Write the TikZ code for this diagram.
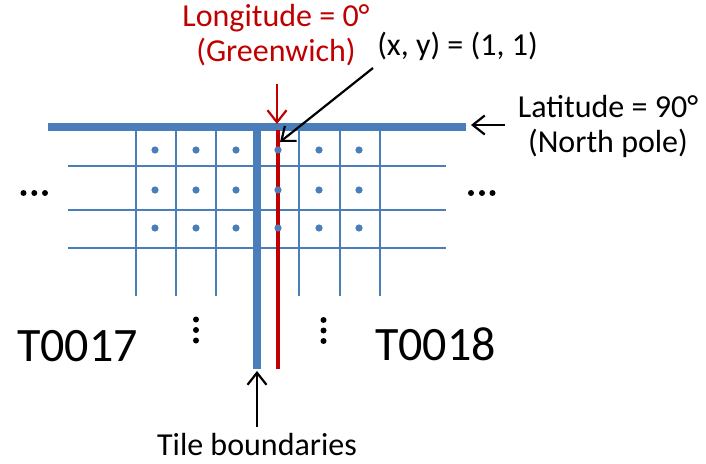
\documentclass[tikz,border=0pt]{standalone}
\usepackage{fontspec}
\setmainfont{Carlito}
\usetikzlibrary{arrows.meta}
\definecolor{gridblue}{HTML}{4A7EBB}
\definecolor{gwred}{HTML}{C00000}
\begin{document}
\begin{tikzpicture}[x=1pt,y=-1pt,
  thinline/.style={draw=gridblue,line width=2pt},
  thickbar/.style={draw=gridblue,line width=7.4pt},
  redline/.style={draw=gwred,line width=4pt},
  cell/.style={circle,fill=gridblue,inner sep=0pt,minimum size=7.2pt},
  blackdot/.style={circle,fill=black,inner sep=0pt,minimum size=6pt},
  lbl/.style={inner sep=0pt,anchor=base,font=\fontsize{32}{36}\selectfont},
  biglbl/.style={inner sep=0pt,anchor=base west,font=\fontsize{48}{56}\selectfont},
  pointer/.style={line width=2.2pt,-{Straight Barb[length=12pt,width=19pt,line width=2.2pt]}},
]
\useasboundingbox (0,0) rectangle (706,463);
% grid vertical thin lines
\foreach \x [count=\i] in {136,176,216,299,340,380}
  \draw[thinline] (\x,130) -- (\x,296);
% grid horizontal lines
\foreach \y in {166,210,248}
  \draw[thinline] (68,\y) -- (446,\y);
% top bar (north pole)
\coordinate (barL) at (48,127);
\coordinate (barR) at (466,127);
\draw[thickbar] (barL) -- (barR);
% tile boundary and Greenwich lines
\coordinate (tbtop) at (257,130);
\coordinate (tbbot) at (257,369);
\draw[thickbar] (tbtop) -- (tbbot);
\coordinate (gwtop) at (278,130);
\coordinate (gwbot) at (278,369);
\draw[redline] (gwtop) -- (gwbot);
% pixel centres
\foreach \x [count=\i] in {155,196,236,278,319,359}
  \foreach \y [count=\j] in {150,190,228}
    \node[cell] (c\i\j) at (\x,\y) {};
% ellipses
\node[blackdot] (ld1) at (23.5,193) {};
\node[blackdot] (ld2) at (34.3,193) {};
\node[blackdot] (ld3) at (45,193) {};
\node[blackdot] (rd1) at (471,193) {};
\node[blackdot] (rd2) at (482,193) {};
\node[blackdot] (rd3) at (492.5,193) {};
\node[blackdot] (lv1) at (196,319.5) {};
\node[blackdot] (lv2) at (196,330) {};
\node[blackdot] (lv3) at (196,340.5) {};
\node[blackdot] (rv1) at (323.5,320) {};
\node[blackdot] (rv2) at (323.5,330.5) {};
\node[blackdot] (rv3) at (323.5,341) {};
% labels
\node[lbl,text=gwred] (lon1) at (276,26) {Longitude = 0°};
\node[lbl,text=gwred] (lon2) at (276,61) {(Greenwich)};
\node[lbl] (xy) at (457.5,55) {(x, y) = (1, 1)};
\node[lbl] (lat1) at (608,117) {Latitude = 90°};
\node[lbl] (lat2) at (608,152) {(North pole)};
\node[lbl] (tb) at (257,455) {Tile boundaries};
\node[biglbl] (t17) at (17,361) {T0017};
\node[biglbl] (t18) at (375,360) {T0018};
% pointers
\coordinate (redtail) at (277,84);
\coordinate (redtip) at (277,124);
\draw[pointer,draw=gwred] (redtail) -- (redtip);
\coordinate (xytail) at (373,68);
\coordinate (xytip) at (280,142);
\draw[pointer] (xytail) -- (xytip);
\coordinate (lattail) at (505,125);
\coordinate (lattip) at (471,125);
\draw[pointer] (lattail) -- (lattip);
\coordinate (tbtail) at (257,427);
\coordinate (tbtip) at (257,371);
\draw[pointer] (tbtail) -- (tbtip);
\end{tikzpicture}
\end{document}
